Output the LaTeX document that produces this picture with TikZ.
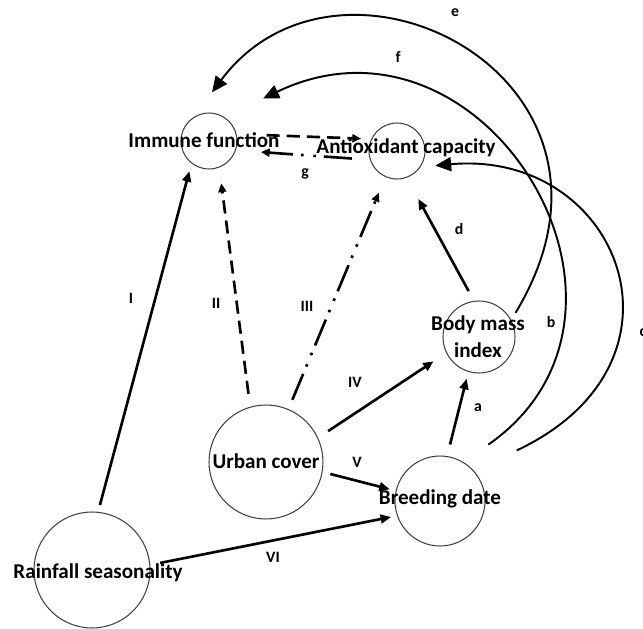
\documentclass[tikz,border=0pt]{standalone}
\usepackage{fontspec}
\setmainfont{Carlito}
\usetikzlibrary{arrows.meta}

\begin{document}
\begin{tikzpicture}[x=0.02cm, y=-0.02cm, bubble/.style={circle, draw=black!75, line width=0.6pt, inner sep=0pt}, varname/.style={font=\fontsize{12}{15.4}\selectfont\bfseries, inner sep=1pt, align=center}, lbl/.style={font=\fontsize{9}{10}\selectfont\bfseries, inner sep=0pt}, solidarrow/.style={line width=1.5pt, -{Triangle[length=6pt, width=5pt]}}, dasharrow/.style={line width=1.5pt, dash pattern=on 7.5pt off 4pt, -{Triangle[length=5pt, width=4.5pt]}}, dotdasharrow/.style={line width=1.5pt, dash pattern=on 16pt off 4.5pt on 1.5pt off 5.5pt on 1.5pt off 4.5pt, -{Triangle[length=5pt, width=4.5pt]}}, bigcurve/.style={line width=1.1pt, -{Triangle[length=9pt, width=8pt]}}]

		\useasboundingbox (0, 0) rectangle (643, 629);

		\node[bubble, minimum size=1.12cm] (imm) at (209, 141) {};
		\node[bubble, minimum size=1.12cm] (anti) at (397, 151) {};
		\node[bubble, minimum size=1.44cm] (bmi) at (479, 337) {};
		\node[bubble, minimum size=2.28cm] (urb) at (266, 462) {};
		\node[bubble, minimum size=1.8cm] (bred) at (440, 501) {};
		\node[bubble, minimum size=2.32cm] (rain) at (92, 570) {};

		\node[varname] (immtxt) at (204, 140) {Immune function};
		\node[varname] (antitxt) at (406, 148) {Antioxidant capacity};
		\node[varname] (bmitxt) at (478, 337) {Body mass\\index};
		\node[varname] (urbtxt) at (266, 461) {Urban cover};
		\node[varname] (bredtxt) at (440, 499) {Breeding date};
		\node[varname] (raintxt) at (98, 573) {Rainfall seasonality};

		\draw[solidarrow, shorten <=4pt, shorten >=4.5pt] (rain.84.7) -- (imm.232.8);

		\draw[dasharrow, shorten <=7.4pt, shorten >=9pt] (urb.106.6) -- (imm.291.3);

		\draw[dotdasharrow, shorten <=5.7pt, shorten >=9.7pt] (urb.67.2) -- (anti.246.3);

		\draw[solidarrow, shorten <=6.8pt, shorten >=8.5pt] (urb.25.8) -- (bmi.206.6);

		\draw[solidarrow, shorten <=4.5pt, shorten >=3.4pt] (urb.350.2) -- (bred.167.6);

		\draw[solidarrow, shorten <=5.7pt, shorten >=3.4pt] (rain.5.9) -- (bred.199.5);

		\draw[solidarrow, shorten <=6.8pt, shorten >=4pt] (bred.81.9) -- (bmi.253.7);

		\draw[solidarrow, shorten <=6.3pt, shorten >=13.7pt] (bmi.98.5) -- (anti.290.2);

		\draw[dasharrow, shorten <=17pt, shorten >=5.7pt] (imm.14) -- (anti.155.4);

		\draw[dotdasharrow, shorten <=10.3pt, shorten >=14.2pt] (anti.198.8) -- (imm.341.2);

		% curved paths on the right
		\draw[bigcurve, shorten <=4.7pt, shorten >=17.6pt] (bmi.28) .. controls +(146, -241) and +(148, -198) .. (imm.123.6);

		\draw[bigcurve, shorten <=17.3pt, shorten >=24.4pt] (bred.59.5) .. controls +(215, -150) and +(260, -125) .. (imm.57.3);

		\draw[bigcurve, shorten <=27pt, shorten >=8.4pt] (bred.42.1) .. controls +(230, -108) and +(199, -18) .. (anti.326.8);

		\node[lbl] (lI) at (131, 298) {I};
		\node[lbl] (lII) at (216, 303) {II};
		\node[lbl] (lIII) at (307, 306) {III};
		\node[lbl] (lIV) at (355, 382) {IV};
		\node[lbl] (lV) at (357, 462) {V};
		\node[lbl] (lVI) at (273, 557) {VI};
		\node[lbl] (la) at (478, 408) {a};
		\node[lbl] (lb) at (551, 322) {b};
		\node[lbl] (lc) at (643, 333) {c};
		\node[lbl] (ld) at (459, 229) {d};
		\node[lbl] (le) at (455, 13) {e};
		\node[lbl] (lf) at (398, 57) {f};
		\node[lbl] (lg) at (305, 174) {g};

	\end{tikzpicture}
\end{document}
